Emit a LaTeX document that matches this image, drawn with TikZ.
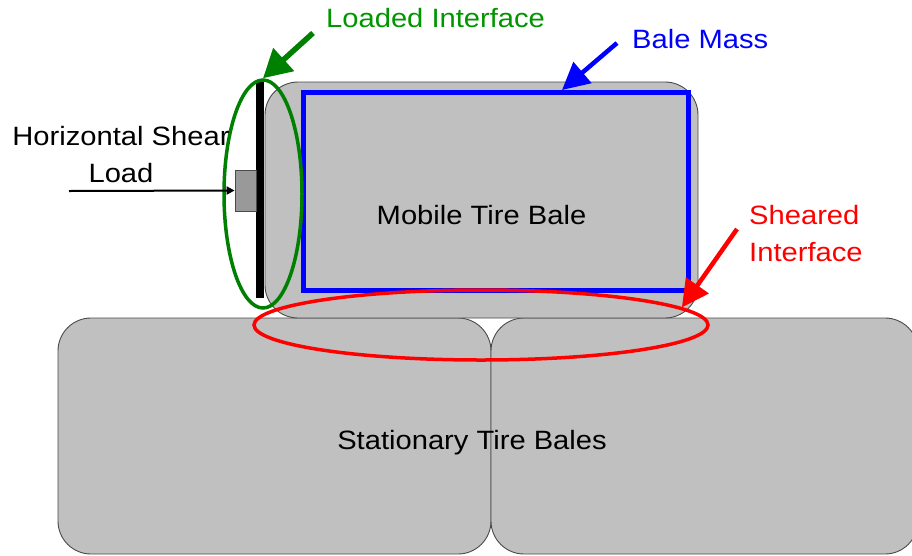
\documentclass[tikz,border=0pt]{standalone}
\usepackage{fontspec}
\setmainfont{Liberation Sans}[FakeStretch=1.1]
\usetikzlibrary{arrows.meta,shapes.geometric}
\definecolor{balegray}{HTML}{C0C0C0}
\definecolor{edgegray}{HTML}{4A4A4A}
\definecolor{boxgray}{HTML}{999999}
\definecolor{ligreen}{RGB}{0,128,0}
\definecolor{lgtext}{RGB}{0,150,0}
\definecolor{bmblue}{RGB}{0,0,255}
\definecolor{sired}{RGB}{255,0,0}
\begin{document}
\begin{tikzpicture}[x=1pt,y=-1pt,
  bale/.style={draw=edgegray,fill=balegray,line width=0.9pt,rounded corners=33pt,inner sep=0pt,minimum width=433pt,minimum height=236pt},
  lbl/.style={font=\fontsize{26.5}{36.5}\selectfont,inner sep=0pt},
  garrow/.style={draw=ligreen,line width=5.5pt,-{Triangle[length=28pt,width=30pt]}},
  barrow/.style={draw=bmblue,line width=4.5pt,-{Triangle[length=27pt,width=27pt]}},
  rarrow/.style={draw=sired,line width=4.5pt,-{Triangle[length=27pt,width=27pt]}},
  karrow/.style={draw=black,line width=2pt,-{Triangle[length=8pt,width=8pt]}}
]
\useasboundingbox (0,0) rectangle (912,555);
\begin{scope}
\clip (0,0) rectangle (912,555);
% stationary bales
\node[bale] (sleft) at (274.5,436) {};
\node[bale,minimum width=427pt] (sright) at (704.5,436) {};
% mobile bale
\node[bale] (mobile) at (481.5,200) {};
\end{scope}
% bale mass rectangle
\node[draw=bmblue,line width=5pt,minimum width=385pt,minimum height=198pt,inner sep=0pt] (mass) at (495.5,191) {};
% load plate and pad
\node[fill=black,minimum width=8pt,minimum height=216pt,inner sep=0pt] (bar) at (260,190) {};
\node[fill=boxgray,draw=edgegray,line width=0.8pt,minimum width=21pt,minimum height=41pt,inner sep=0pt] (pad) at (245.5,190.5) {};
% ellipses
\node[draw=ligreen,line width=3.5pt,ellipse,minimum width=78pt,minimum height=228pt,inner sep=0pt] (li) at (263,194) {};
\node[draw=sired,line width=3.5pt,ellipse,minimum width=454pt,minimum height=70pt,inner sep=0pt] (si) at (481,325) {};
% texts
\node[lbl] (tmobile) at (481.5,215) {Mobile Tire Bale};
\node[lbl] (tstat) at (472,443) {Stationary Tire Bales};
\node[lbl,text=lgtext,anchor=base west] (tli) at (326,27) {Loaded Interface};
\node[lbl,text=bmblue,anchor=base west] (tbm) at (632,48) {Bale Mass};
\node[lbl,text=sired,anchor=base west,align=left] (tsi) at (749,261) {Sheared\\Interface};
\node[lbl,anchor=base,align=center] (thl) at (121,182) {Horizontal Shear\\Load};
% arrows
\coordinate (gstart) at (313,33);
\coordinate (bstart) at (617,43);
\coordinate (btip) at (562,90);
\coordinate (rstart) at (737,229);
\coordinate (kstart) at (69,191);
\draw[garrow] (gstart) -- (li.north);
\draw[barrow] (bstart) -- (btip);
\draw[rarrow] (rstart) -- (si.5);
\draw[karrow] (kstart) -- (pad.west);
\end{tikzpicture}
\end{document}
